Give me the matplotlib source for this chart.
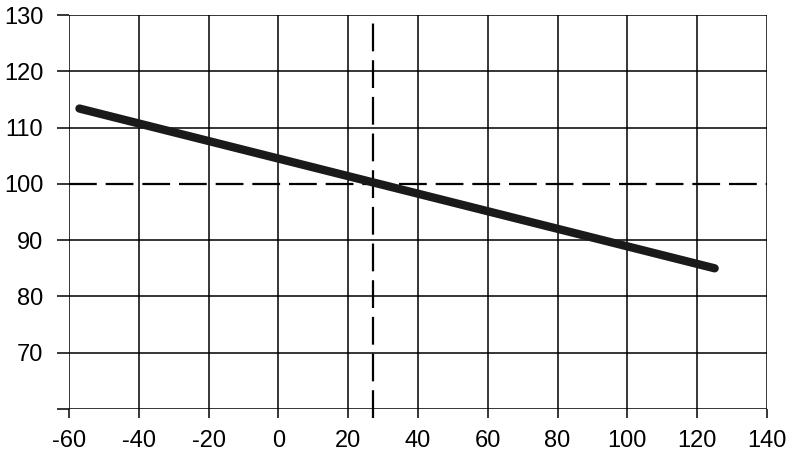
import matplotlib.pyplot as plt

# data
line_x = [-57, 125]
line_y = [113.4, 85.0]
ref_x = 27
ref_y = 100
x_ticks = [-60, -40, -20, 0, 20, 40, 60, 80, 100, 120, 140]
y_ticks = [60, 70, 80, 90, 100, 110, 120, 130]
y_labels = ['', '70', '80', '90', '100', '110', '120', '130']

plt.rcParams['font.family'] = ['Liberation Sans', 'DejaVu Sans']
plt.rcParams['axes.unicode_minus'] = False

fig = plt.figure(figsize=(7.9, 4.59), dpi=100)
ax = fig.add_axes([0.0873, 0.109, 0.8836, 0.858])

ax.plot(line_x, line_y, color='#1a1a1a', lw=6, solid_capstyle='round', zorder=4)
ax.axvline(ref_x, ymin=-0.024, color='black', lw=1.6, dashes=(12.5, 4),
           clip_on=False, zorder=3)
ax.axhline(ref_y, color='black', lw=1.6, dashes=(12.5, 4), zorder=3)

ax.set_xlim(-60, 140)
ax.set_ylim(60, 130)
ax.set_xticks(x_ticks)
ax.set_yticks(y_ticks)
ax.set_yticklabels(y_labels)
ax.grid(True, color='black', lw=1.1)
# the 100 line is drawn dashed instead of as a solid gridline
ax.get_ygridlines()[y_ticks.index(ref_y)].set_visible(False)
for s in ax.spines.values():
    s.set_visible(False)
ax.tick_params(axis='both', length=8.5, width=1.1, labelsize=17, color='black')
ax.tick_params(axis='y', pad=10)
ax.tick_params(axis='x', pad=9, length=6.5)

fig.savefig('out.png', dpi=100)
